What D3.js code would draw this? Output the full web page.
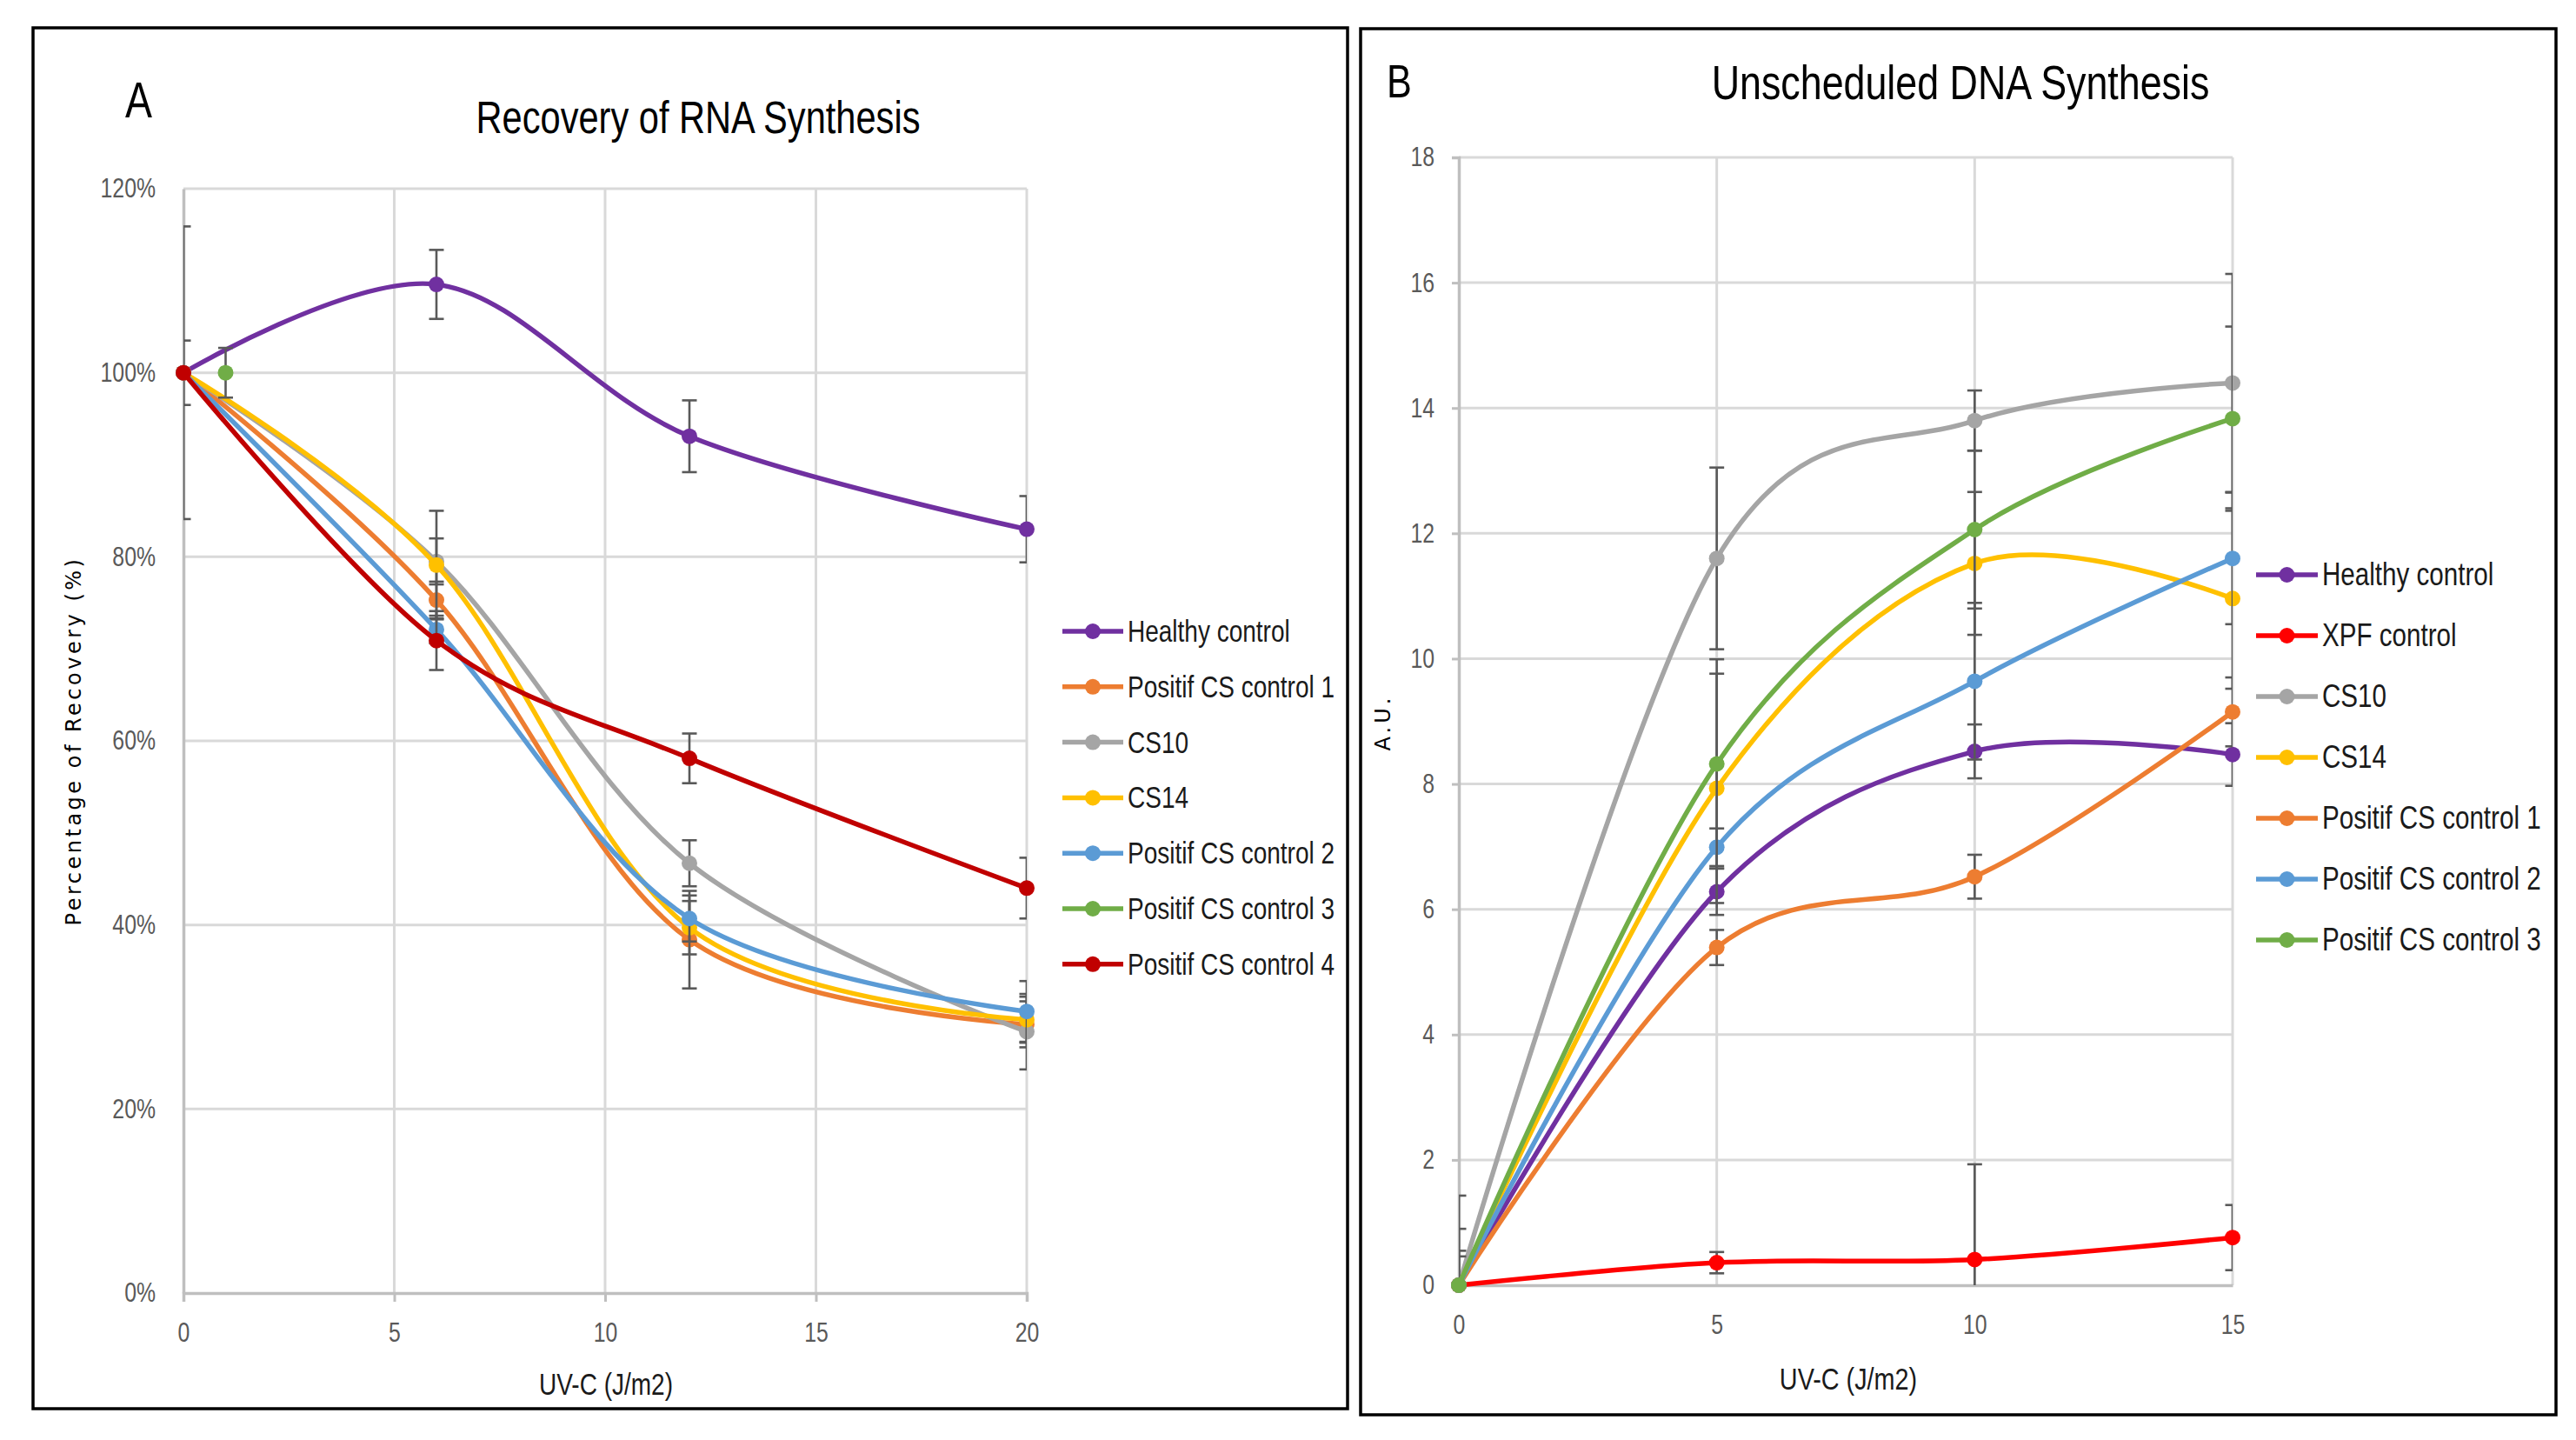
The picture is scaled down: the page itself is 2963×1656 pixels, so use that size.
<!DOCTYPE html>
<html>
<head>
<meta charset="utf-8">
<script src="https://cdn.jsdelivr.net/npm/d3@7"></script>
<style>
  body { margin: 0; background: #fff; }
  .narrow { font-family: "Liberation Sans", Arial, sans-serif; }
</style>
</head>
<body>
<svg id="fig" width="2963" height="1656"></svg>
<script>
// ---- Panel A : Recovery of RNA Synthesis ----
const doseA = [0, 6, 12, 20];
const xTicksA = [0, 5, 10, 15, 20];
const yTicksA = [0, 20, 40, 60, 80, 100, 120];

const healthyA = [100, 109.6, 93.1, 83.0];
const healthyErrA = [3.5, 3.75, 3.9, 3.6];
const pcs1A = [100, 75.3, 38.4, 29.2];
const pcs1ErrA = [0, 2.0, 5.3, 2.5];
const cs10A = [100, 79.5, 46.7, 28.4];
const cs10ErrA = [15.9, 2.5, 2.5, 4.1];
const cs14A = [100, 79.1, 39.7, 29.7];
const cs14ErrA = [0, 5.9, 2.9, 2.5];
const pcs2A = [100, 72.1, 40.7, 30.6];
const pcs2ErrA = [0, 1.5, 2.5, 3.3];
const pcs3DoseA = [1];
const pcs3A = [100];
const pcs3ErrA = [2.7];
const pcs4A = [100, 70.9, 58.1, 44.0];
const pcs4ErrA = [0, 3.2, 2.7, 3.3];

// ---- Panel B : Unscheduled DNA Synthesis ----
const doseB = [0, 5, 10, 15];
const xTicksB = [0, 5, 10, 15];
const yTicksB = [0, 2, 4, 6, 8, 10, 12, 14, 16, 18];

const healthyB = [0, 6.28, 8.52, 8.47];
const healthyErrB = [0, 0.37, 0.43, 0.5];
const xpfB = [0, 0.36, 0.41, 0.76];
const xpfErrB = [0, 0.17, 1.52, 0.52];
const cs10B = [0, 11.6, 13.8, 14.4];
const cs10ErrB = [1.43, 1.45, 0.48, 1.74];
const cs14B = [0, 7.93, 11.52, 10.96];
const cs14ErrB = [0.55, 1.83, 1.14, 1.44];
const pcs1B = [0, 5.39, 6.52, 9.15];
const pcs1ErrB = [0, 0.28, 0.35, 0.55];
const pcs2B = [0, 6.99, 9.64, 11.6];
const pcs2ErrB = [0.46, 0.3, 1.25, 1.05];
const pcs3B = [0, 8.32, 12.06, 13.83];
const pcs3ErrB = [0.9, 1.67, 1.26, 1.47];

function series(name, color, xs, ys, errs) {
    return { name: name, color: color, pts: xs.map((d, i) => ({ x: d, y: ys[i], e: errs[i] })) };
}

const seriesA = [
    series("Healthy control", "#7030A0", doseA, healthyA, healthyErrA),
    series("Positif CS control 1", "#ED7D31", doseA, pcs1A, pcs1ErrA),
    series("CS10", "#A5A5A5", doseA, cs10A, cs10ErrA),
    series("CS14", "#FFC000", doseA, cs14A, cs14ErrA),
    series("Positif CS control 2", "#5B9BD5", doseA, pcs2A, pcs2ErrA),
    series("Positif CS control 3", "#70AD47", pcs3DoseA, pcs3A, pcs3ErrA),
    series("Positif CS control 4", "#C00000", doseA, pcs4A, pcs4ErrA)
];

const seriesB = [
    series("Healthy control", "#7030A0", doseB, healthyB, healthyErrB),
    series("XPF control", "#FF0000", doseB, xpfB, xpfErrB),
    series("CS10", "#A5A5A5", doseB, cs10B, cs10ErrB),
    series("CS14", "#FFC000", doseB, cs14B, cs14ErrB),
    series("Positif CS control 1", "#ED7D31", doseB, pcs1B, pcs1ErrB),
    series("Positif CS control 2", "#5B9BD5", doseB, pcs2B, pcs2ErrB),
    series("Positif CS control 3", "#70AD47", doseB, pcs3B, pcs3ErrB)
];

const svg = d3.select("#fig");
svg.append("rect").attr("width", 2963).attr("height", 1656).attr("fill", "#fff");

// squeeze text horizontally, the source used a narrow font
function narrow(sel) {
    sel.each(function () {
        const t = d3.select(this);
        const tx = +t.attr("x") || 0;
        const ty = +t.attr("y") || 0;
        t.attr("x", 0).attr("y", 0)
            .attr("class", "narrow")
            .attr("transform", `translate(${tx},${ty}) scale(0.8,1)`);
    });
}

function drawPanel(p) {
    const g = svg.append("g").attr("id", p.id);
    const x = d3.scaleLinear().domain(p.xDomain).range(p.xRange);
    const y = d3.scaleLinear().domain(p.yDomain).range(p.yRange);

    // frame round the panel
    g.append("rect")
        .attr("x", p.frame[0]).attr("y", p.frame[1])
        .attr("width", p.frame[2]).attr("height", p.frame[3])
        .attr("fill", "none").attr("stroke", "#000").attr("stroke-width", 3.5);

    // clip for the error bars (they are cut at the plot area)
    g.append("clipPath").attr("id", p.id + "-clip")
        .append("rect")
        .attr("x", p.xRange[0]).attr("y", p.yRange[1])
        .attr("width", p.xRange[1] - p.xRange[0]).attr("height", p.yRange[0] - p.yRange[1]);

    // gridlines
    g.selectAll(".hgrid").data(p.yTicks.slice(1)).join("line")
        .attr("class", "hgrid")
        .attr("x1", p.xRange[0]).attr("x2", p.xRange[1])
        .attr("y1", d => y(d)).attr("y2", d => y(d))
        .attr("stroke", "#d9d9d9").attr("stroke-width", 3);
    g.selectAll(".vgrid").data(p.xTicks.slice(1)).join("line")
        .attr("class", "vgrid")
        .attr("x1", d => x(d)).attr("x2", d => x(d))
        .attr("y1", p.yRange[0]).attr("y2", p.yRange[1])
        .attr("stroke", "#d9d9d9").attr("stroke-width", 3);

    // axes
    const xAxis = d3.axisBottom(x).tickValues(p.xTicks)
        .tickSize(p.xTickSize).tickPadding(p.xTickSize > 0 ? 24 : 34).tickFormat(d3.format("d"));
    const yAxis = d3.axisLeft(y).tickValues(p.yTicks)
        .tickSize(p.yTickSize).tickPadding(p.yTickSize > 0 ? 20 : 32).tickFormat(p.yFormat);

    const gx = g.append("g").attr("transform", `translate(0,${p.yRange[0]})`).call(xAxis);
    const gy = g.append("g").attr("transform", `translate(${p.xRange[0]},0)`).call(yAxis);
    [gx, gy].forEach(a => {
        a.attr("font-family", null).attr("font-size", null);
        a.select(".domain").attr("stroke", "#bfbfbf").attr("stroke-width", 3.5);
        a.selectAll(".tick line").attr("stroke", "#bfbfbf").attr("stroke-width", 3);
        a.selectAll(".tick text")
            .attr("font-size", 31)
            .attr("fill", "#595959")
            .call(narrow);
    });

    const line = d3.line()
        .x(d => x(d.x))
        .y(d => y(d.y))
        .curve(d3.curveCardinal.tension(0));

    const plot = g.append("g");
    p.series.forEach(s => {
        const sg = plot.append("g");
        // error bars
        const eb = sg.append("g").attr("clip-path", `url(#${p.id}-clip)`)
            .selectAll("g").data(s.pts.filter(d => d.e > 0)).join("g")
            .attr("stroke", "#595959").attr("stroke-width", 2.6);
        eb.append("line")
            .attr("x1", d => x(d.x)).attr("x2", d => x(d.x))
            .attr("y1", d => y(d.y + d.e)).attr("y2", d => y(d.y - d.e));
        eb.append("line")
            .attr("x1", d => x(d.x) - 8.5).attr("x2", d => x(d.x) + 8.5)
            .attr("y1", d => y(d.y + d.e)).attr("y2", d => y(d.y + d.e));
        eb.append("line")
            .attr("x1", d => x(d.x) - 8.5).attr("x2", d => x(d.x) + 8.5)
            .attr("y1", d => y(d.y - d.e)).attr("y2", d => y(d.y - d.e));

        sg.append("path")
            .attr("d", line(s.pts))
            .attr("fill", "none")
            .attr("stroke", s.color)
            .attr("stroke-width", 5.5)
            .attr("stroke-linejoin", "round");

        sg.selectAll("circle").data(s.pts).join("circle")
            .attr("cx", d => x(d.x)).attr("cy", d => y(d.y))
            .attr("r", 9).attr("fill", s.color);
    });

    // legend
    const lg = g.append("g").attr("transform", `translate(${p.legend[0]},${p.legend[1]})`);
    const item = lg.selectAll("g").data(p.series).join("g")
        .attr("transform", (d, i) => `translate(0,${i * p.legend[2]})`);
    item.append("line")
        .attr("x1", 0).attr("x2", p.legend[3])
        .attr("stroke", d => d.color).attr("stroke-width", 5.5);
    item.append("circle")
        .attr("cx", p.legend[3] / 2).attr("r", 9)
        .attr("fill", d => d.color);
    item.append("text")
        .attr("x", p.legend[3] + 5).attr("y", 12)
        .attr("font-size", p.legendFont)
        .attr("fill", "#1a1a1a")
        .text(d => d.name)
        .call(narrow);

    // panel letter and title
    g.append("text")
        .attr("x", p.letter[0]).attr("y", p.letter[1])
        .attr("font-size", p.letter[2]).attr("fill", "#000")
        .text(p.letter[3])
        .call(narrow);
    g.append("text")
        .attr("x", p.title[0]).attr("y", p.title[1])
        .attr("text-anchor", "middle")
        .attr("font-size", p.title[2]).attr("fill", "#000")
        .text(p.title[3])
        .call(narrow);

    // axis titles
    g.append("text")
        .attr("x", p.xTitle[0]).attr("y", p.xTitle[1])
        .attr("text-anchor", "middle")
        .attr("font-size", p.xTitle[2]).attr("fill", "#1a1a1a")
        .text("UV-C (J/m2)")
        .call(narrow);
    g.append("text")
        .attr("transform", `translate(${p.yTitle[0]},${p.yTitle[1]}) rotate(-90)`)
        .attr("text-anchor", "middle")
        .attr("font-family", "DejaVu Sans, sans-serif")
        .attr("font-size", 24)
        .attr("letter-spacing", p.yTitle[3])
        .attr("fill", "#000")
        .text(p.yTitle[2]);
}

drawPanel({
    id: "panelA",
    frame: [38, 32, 1512, 1588],
    xDomain: [0, 20], xRange: [211, 1181],
    yDomain: [0, 120], yRange: [1487, 217],
    xTicks: xTicksA, yTicks: yTicksA,
    xTickSize: 10, yTickSize: 0,
    yFormat: d => d + "%",
    series: seriesA,
    legend: [1222, 726, 63.8, 70],
    legendFont: 35,
    letter: [144, 135, 58, "A"],
    title: [803, 153, 52, "Recovery of RNA Synthesis"],
    xTitle: [697, 1604, 35],
    yTitle: [93, 852, "Percentage of Recovery (%)", 3.5]
});

drawPanel({
    id: "panelB",
    frame: [1565, 33, 1375, 1594],
    xDomain: [0, 15], xRange: [1678, 2568],
    yDomain: [0, 18], yRange: [1478, 181],
    xTicks: xTicksB, yTicks: yTicksB,
    xTickSize: 0, yTickSize: 8,
    yFormat: d3.format("d"),
    series: seriesB,
    legend: [2595, 661, 70, 71],
    legendFont: 37,
    letter: [1595, 112, 54, "B"],
    title: [2255, 114, 56, "Unscheduled DNA Synthesis"],
    xTitle: [2126, 1598, 36],
    yTitle: [1599, 831, "A.U.", 4]
});
</script>
</body>
</html>
